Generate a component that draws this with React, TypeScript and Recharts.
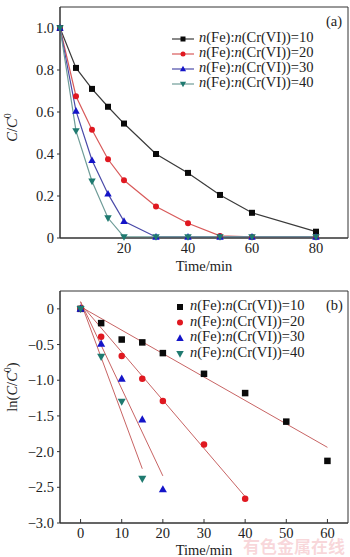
import React from "react";
import {
  LineChart,
  ComposedChart,
  Line,
  Scatter,
  XAxis,
  YAxis,
  ReferenceArea,
} from "recharts";

const FONT = "'Liberation Serif', 'Times New Roman', serif";

// (a) C/C0 vs time
const timeA = [0, 5, 10, 15, 20, 30, 40, 50, 60, 80];
const ratioA10 = [1.0, 0.81, 0.71, 0.625, 0.545, 0.4, 0.31, 0.205, 0.12, 0.03];
const ratioA20 = [1.0, 0.675, 0.515, 0.375, 0.275, 0.15, 0.07, 0.01, 0.005, 0.005];
const ratioA30 = [1.0, 0.605, 0.37, 0.21, 0.08, 0.005, 0.005, 0.005, 0.005, 0.005];
const ratioA40 = [1.0, 0.51, 0.27, 0.095, 0.005, 0.005, 0.005, 0.005, 0.005, 0.005];
const yTicksA = [0, 0.2, 0.4, 0.6, 0.8, 1.0];
const xTicksA = [20, 40, 60, 80];

// (b) ln(C/C0) vs time, points + linear fits
const timeB10 = [0, 5, 10, 15, 20, 30, 40, 50, 60];
const lnB10 = [0, -0.2, -0.43, -0.47, -0.62, -0.91, -1.18, -1.58, -2.13];
const timeB20 = [0, 5, 10, 15, 20, 30, 40];
const lnB20 = [0, -0.39, -0.66, -0.98, -1.29, -1.9, -2.66];
const timeB30 = [0, 5, 10, 15, 20];
const lnB30 = [0, -0.49, -0.98, -1.55, -2.53];
const timeB40 = [0, 5, 10, 15];
const lnB40 = [0, -0.67, -1.3, -2.38];
const fitX10 = [0, 60];
const fitY10 = [0.03, -1.94];
const fitX20 = [0, 40];
const fitY20 = [0.07, -2.63];
const fitX30 = [0, 20];
const fitY30 = [0.1, -2.34];
const fitX40 = [0, 15];
const fitY40 = [0.1, -2.24];
const yTicksB = [0, -0.5, -1.0, -1.5, -2.0, -2.5, -3.0];
const xTicksB = [0, 10, 20, 30, 40, 50, 60];

const seriesLabels = ["10", "20", "30", "40"];
const markerKinds = ["square", "circle", "up", "down"];
const markerColors = ["#0a0a0a", "#e01820", "#1414c8", "#1f7a70"];
const lineColorsA = ["#3a3a3a", "#d85a5a", "#4a4aa8", "#6f9c98"];
const FIT_COLOR = "#c86464";

const zip = (xs: number[], ys: number[]) => xs.map((x, i) => ({ x, y: ys[i] }));

function Marker({ cx, cy, kind, color, size = 6 }: any) {
  if (cx == null || cy == null) return null;
  const s = size;
  if (kind === "square") return <rect x={cx - s / 2} y={cy - s / 2} width={s} height={s} fill={color} />;
  if (kind === "circle") return <circle cx={cx} cy={cy} r={s / 2} fill={color} />;
  if (kind === "up")
    return (
      <polygon
        points={`${cx},${cy - s * 0.65} ${cx - s * 0.62},${cy + s * 0.45} ${cx + s * 0.62},${cy + s * 0.45}`}
        fill={color}
      />
    );
  return (
    <polygon
      points={`${cx},${cy + s * 0.65} ${cx - s * 0.62},${cy - s * 0.45} ${cx + s * 0.62},${cy - s * 0.45}`}
      fill={color}
    />
  );
}

const fmtA = (v: number) => (v === 0 ? "0" : v.toFixed(1));
const fmtB = (v: number) => (v === 0 ? "0" : "\u2212" + Math.abs(v).toFixed(1));

const LegendText = ({ label }: { label: string }) => (
  <span>
    <i>n</i>(Fe):<i>n</i>(Cr(VI))={label}
  </span>
);

function YLabelA({ viewBox }: any) {
  const cx = 17;
  const cy = viewBox.y + viewBox.height / 2 + 5;
  return (
    <text x={cx} y={cy} transform={`rotate(-90 ${cx} ${cy})`} textAnchor="middle" fontFamily={FONT} fontSize={14.5} fill="#222">
      <tspan fontStyle="italic">C</tspan>
      <tspan>/</tspan>
      <tspan fontStyle="italic">C</tspan>
      <tspan dy={-6} fontSize={10}>0</tspan>
    </text>
  );
}

function YLabelB({ viewBox }: any) {
  const cx = 17;
  const cy = viewBox.y + viewBox.height / 2 - 20;
  return (
    <text x={cx} y={cy} transform={`rotate(-90 ${cx} ${cy})`} textAnchor="middle" fontFamily={FONT} fontSize={14.5} fill="#222">
      <tspan>ln(</tspan>
      <tspan fontStyle="italic">C</tspan>
      <tspan>/</tspan>
      <tspan fontStyle="italic">C</tspan>
      <tspan dy={-6} fontSize={10}>0</tspan>
      <tspan dy={6}>)</tspan>
    </text>
  );
}

const tickStyle = { fontFamily: FONT, fontSize: 14.5, fill: "#222" };
const AXIS = "#333";

function ChartA() {
  const ratios = [ratioA10, ratioA20, ratioA30, ratioA40];
  return (
    <div style={{ position: "relative", width: 350, height: 280 }}>
      <LineChart width={350} height={280} margin={{ top: 7, right: 2, bottom: 0, left: 0 }}>
        <XAxis
          type="number"
          dataKey="x"
          domain={[0, 90]}
          ticks={xTicksA}
          height={42}
          tickSize={0}
          tickMargin={5}
          tick={tickStyle}
          stroke={AXIS}
          label={{ value: "Time/min", position: "insideBottom", offset: 9, style: { fontFamily: FONT, fontSize: 14.5, fill: "#222" } }}
        />
        <YAxis
          type="number"
          domain={[0, 1.1]}
          ticks={yTicksA}
          tickFormatter={fmtA}
          width={60}
          tickSize={3}
          tickMargin={3}
          tick={tickStyle}
          stroke={AXIS}
          label={<YLabelA />}
        />
        <ReferenceArea x1={0} x2={90} y1={0} y2={1.1} stroke={AXIS} strokeWidth={1} fill="none" />
        {ratios.map((r, i) => (
          <Line
            key={seriesLabels[i]}
            data={zip(timeA, r)}
            dataKey="y"
            stroke={lineColorsA[i]}
            strokeWidth={1.2}
            isAnimationActive={false}
            dot={(p: any) => <Marker key={`a${i}-${p.index}`} cx={p.cx} cy={p.cy} kind={markerKinds[i]} color={markerColors[i]} />}
            activeDot={false}
          />
        ))}
      </LineChart>
      <div style={{ position: "absolute", left: 326, top: 13, fontFamily: FONT, fontSize: 14.5, color: "#222" }}>(a)</div>
      <svg style={{ position: "absolute", left: 170, top: 30 }} width={28} height={62}>
        {seriesLabels.map((_, i) => (
          <g key={i}>
            <line x1={2} x2={24} y1={9 + i * 15} y2={9 + i * 15} stroke={lineColorsA[i]} strokeWidth={1.2} />
            <Marker cx={13} cy={9 + i * 15} kind={markerKinds[i]} color={markerColors[i]} size={5} />
          </g>
        ))}
      </svg>
      <div style={{ position: "absolute", left: 199, top: 30, fontFamily: FONT, fontSize: 14.5, lineHeight: "15px", color: "#222" }}>
        {seriesLabels.map((l) => (
          <div key={l}>
            <LegendText label={l} />
          </div>
        ))}
      </div>
    </div>
  );
}

function ChartB() {
  const pts = [zip(timeB10, lnB10), zip(timeB20, lnB20), zip(timeB30, lnB30), zip(timeB40, lnB40)];
  const fits = [zip(fitX10, fitY10), zip(fitX20, fitY20), zip(fitX30, fitY30), zip(fitX40, fitY40)];
  return (
    <div style={{ position: "relative", width: 350, height: 277 }}>
      <ComposedChart width={350} height={277} margin={{ top: 11, right: 2, bottom: 0, left: 0 }}>
        <XAxis
          type="number"
          dataKey="x"
          domain={[-5, 65]}
          ticks={xTicksB}
          height={34}
          tickSize={-4}
          tickMargin={9}
          tick={tickStyle}
          stroke={AXIS}
          label={{ value: "Time/min", position: "insideBottom", offset: 2, style: { fontFamily: FONT, fontSize: 14.5, fill: "#222" } }}
        />
        <YAxis
          type="number"
          dataKey="y"
          domain={[-3, 0.25]}
          ticks={yTicksB}
          tickFormatter={fmtB}
          width={60}
          tickSize={3}
          tickMargin={3}
          tick={tickStyle}
          stroke={AXIS}
          label={<YLabelB />}
        />
        <ReferenceArea x1={-5} x2={65} y1={-3} y2={0.25} stroke={AXIS} strokeWidth={1} fill="none" />
        {fits.map((f, i) => (
          <Line
            key={`fit${i}`}
            data={f}
            dataKey="y"
            stroke={FIT_COLOR}
            strokeWidth={1}
            dot={false}
            activeDot={false}
            isAnimationActive={false}
          />
        ))}
        {pts.map((p, i) => (
          <Scatter
            key={`pts${i}`}
            data={p}
            dataKey="y"
            isAnimationActive={false}
            shape={(s: any) => <Marker cx={s.cx} cy={s.cy} kind={markerKinds[i]} color={markerColors[i]} size={6.5} />}
          />
        ))}
      </ComposedChart>
      <div style={{ position: "absolute", left: 326, top: 17, fontFamily: FONT, fontSize: 14.5, color: "#222" }}>(b)</div>
      <svg style={{ position: "absolute", left: 172, top: 18 }} width={16} height={62}>
        {seriesLabels.map((_, i) => (
          <Marker key={i} cx={8} cy={9 + i * 15.6} kind={markerKinds[i]} color={markerColors[i]} size={6} />
        ))}
      </svg>
      <div style={{ position: "absolute", left: 190, top: 18, fontFamily: FONT, fontSize: 14.5, lineHeight: "15.6px", color: "#222" }}>
        {seriesLabels.map((l) => (
          <div key={l}>
            <LegendText label={l} />
          </div>
        ))}
      </div>
      <div
        style={{
          position: "absolute",
          left: 243,
          top: 256,
          fontFamily: "'Noto Sans CJK SC', sans-serif",
          fontSize: 17,
          lineHeight: "20px",
          fontWeight: 700,
          color: "rgba(236, 140, 150, 0.35)",
          whiteSpace: "nowrap",
          pointerEvents: "none",
        }}
      >
        有色金属在线
      </div>
    </div>
  );
}

export default function App() {
  return (
    <div style={{ position: "absolute", left: 0, top: 0, width: 350, height: 557, background: "#fff", overflow: "hidden" }}>
      <ChartA />
      <ChartB />
    </div>
  );
}
